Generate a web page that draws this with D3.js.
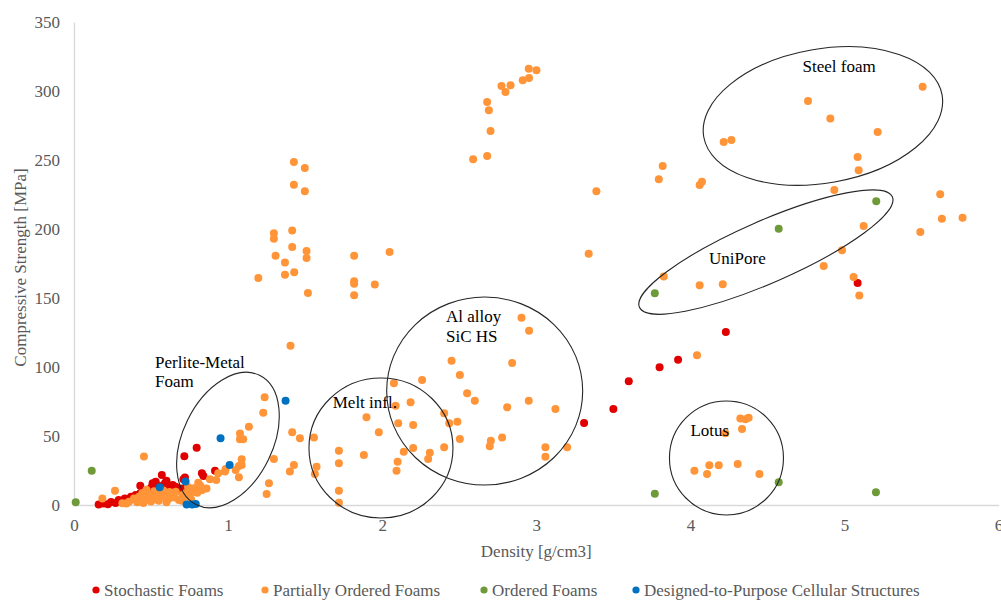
<!DOCTYPE html>
<html>
<head>
<meta charset="utf-8">
<script src="https://cdn.jsdelivr.net/npm/d3@7"></script>
<style>
  html, body { margin: 0; padding: 0; background: #fff; }
  svg { display: block; font-family: "Liberation Serif", "Times New Roman", serif; }
</style>
</head>
<body>
<svg id="chart" width="1001" height="601"></svg>
<script>
// Compressive strength vs. density of metallic cellular materials
// Each point: [density g/cm3, compressive strength MPa]

const seriesNames = [
  "Stochastic Foams",
  "Partially Ordered Foams",
  "Ordered Foams",
  "Designed-to-Purpose Cellular Structures"
];

const stochasticFoams = [
  [0.16, 0.3], [0.19, 1.0], [0.22, 0.6], [0.24, 2.2], [0.27, 1.5], [0.29, 3.6], [0.31, 2.2],
  [0.33, 4.8], [0.35, 3.0], [0.37, 6.0], [0.38, 4.5], [0.40, 7.2], [0.42, 5.5], [0.43, 8.5],
  [0.43, 14.0], [0.46, 8.5], [0.49, 10.9], [0.50, 12.5], [0.51, 15.7], [0.53, 16.9],
  [0.55, 14.0], [0.57, 21.7], [0.58, 12.0], [0.59, 15.7], [0.60, 17.5], [0.62, 13.3],
  [0.64, 14.5], [0.66, 13.3], [0.68, 11.5], [0.70, 12.0], [0.71, 18.6], [0.72, 20.0],
  [0.78, 10.4], [0.83, 23.0], [0.84, 21.0], [0.915, 24.9], [0.716, 35.3], [0.796, 41.5],
  [3.31, 59.4], [3.50, 69.6], [3.60, 89.6], [3.80, 99.8], [3.92, 105.3], [4.23, 125.4],
  [5.085, 160.9]
];

const partiallyOrderedFoams = [
  // low-density cluster
  [0.184, 4.8], [0.266, 10.4], [0.454, 35.2], [0.314, 1.2], [0.34, 1.0], [0.357, 2.4],
  [0.389, 4.8], [0.41, 2.0], [0.422, 6.0], [0.443, 8.5], [0.45, 1.5], [0.465, 3.6],
  [0.47, 11.0], [0.486, 6.0], [0.50, 2.5], [0.508, 7.2], [0.52, 10.0], [0.53, 4.8],
  [0.551, 8.5], [0.55, 3.0], [0.573, 6.0], [0.58, 10.5], [0.595, 7.2], [0.60, 2.0],
  [0.616, 4.8], [0.62, 9.5], [0.638, 8.5], [0.65, 5.5], [0.66, 9.6], [0.681, 3.6],
  [0.70, 3.0], [0.703, 7.2], [0.724, 8.5], [0.735, 6.0], [0.757, 8.5], [0.76, 4.0],
  [0.74, 13.0], [0.778, 12.1], [0.80, 8.9], [0.806, 16.2], [0.82, 14.0], [0.832, 10.9],
  [0.86, 12.0], [0.882, 18.6], [0.923, 18.1], [0.936, 23.0], [0.98, 24.2], [0.984, 26.1],
  [1.049, 25.4], [1.07, 28.3], [1.07, 20.1], [1.088, 29.0], [1.088, 33.1], [1.077, 47.6],
  [1.098, 47.6], [1.077, 51.9], [1.135, 56.7], [1.228, 66.9], [1.237, 78.0], [1.25, 8.0],
  [1.265, 15.7], [1.297, 33.3], [1.401, 24.2], [1.427, 29.0], [1.416, 52.7], [1.466, 48.3],
  [1.405, 115.4],
  // high-strength group near 1.2-2.0
  [1.427, 248.6], [1.498, 244.2], [1.427, 232.1], [1.498, 227.3], [1.297, 196.9],
  [1.297, 193.0], [1.416, 199.0], [1.416, 187.0], [1.509, 184.1], [1.509, 179.0],
  [1.308, 180.7], [1.369, 175.8], [1.369, 166.9], [1.429, 168.6], [1.196, 164.5],
  [1.518, 153.6], [1.818, 180.7], [2.048, 183.3], [1.818, 162.1], [1.818, 160.4],
  [1.952, 159.7], [1.818, 152.0],
  // steep group 2.6-3.4
  [2.951, 316.2], [3.001, 315.0], [2.953, 309.4], [2.912, 307.7], [2.774, 303.6],
  [2.833, 304.1], [2.800, 299.3], [2.681, 292.0], [2.692, 286.0], [2.703, 271.0],
  [2.590, 250.5], [2.681, 252.9], [3.390, 227.3], [3.340, 182.1],
  // Al alloy SiC hollow spheres
  [2.904, 135.6], [2.953, 126.3], [2.450, 104.6], [2.504, 94.2], [2.843, 102.9],
  [2.259, 90.6], [2.076, 88.2], [2.551, 80.9], [2.601, 75.6], [2.184, 74.4], [2.087, 72.0],
  [2.811, 70.8], [2.951, 75.6], [3.124, 69.6], [2.402, 66.4], [2.435, 59.2], [2.488, 60.4],
  [2.104, 59.2], [2.201, 58.0], [2.504, 47.8], [2.778, 49.0], [2.705, 46.6], [2.698, 42.5],
  [3.059, 41.8], [3.059, 35.0], [3.200, 41.8], [2.201, 41.3], [2.140, 38.6], [2.309, 37.9],
  [2.298, 33.3], [2.402, 41.8], [2.100, 31.4], [2.093, 24.9],
  // melt infiltration
  [1.978, 52.7], [1.557, 49.0], [1.574, 27.8], [1.563, 22.5], [1.719, 39.4], [1.719, 30.2],
  [1.719, 10.4], [1.719, 1.7], [1.898, 63.5], [1.881, 36.2],
  // higher densities
  [3.820, 245.6], [3.795, 236.0], [4.075, 234.3], [4.060, 231.9], [4.934, 228.3],
  [4.865, 173.2], [3.827, 165.5], [4.060, 159.2], [4.210, 159.9], [4.043, 108.5],
  // lotus-type
  [4.324, 62.6], [4.357, 62.1], [4.378, 63.3], [4.335, 55.1], [4.227, 52.0], [4.026, 24.9],
  [4.123, 28.8], [4.108, 22.5], [4.184, 28.8], [4.307, 29.7], [4.448, 22.5],
  // steel foams
  [5.507, 303.1], [4.763, 292.8], [4.908, 280.0], [5.215, 270.3], [4.216, 263.0],
  [4.266, 264.5], [5.085, 252.2], [5.092, 242.5], [5.621, 225.1], [5.632, 207.5],
  [5.766, 208.2], [5.492, 197.8], [5.124, 202.2], [4.984, 184.6], [5.059, 165.2],
  [5.096, 151.9]
];

const orderedFoams = [
  [0.011, 2.0], [0.115, 24.8], [3.769, 153.4], [4.573, 200.2], [5.206, 220.1],
  [4.573, 16.4], [3.769, 8.2], [5.204, 9.2]
];

const designedStructures = [
  [0.556, 12.8], [0.724, 17.0], [0.951, 48.3], [1.010, 29.0], [1.373, 75.6],
  [0.731, 0.3], [0.767, 0.3], [0.79, 0.8]
];

const xTicks = [0, 1, 2, 3, 4, 5, 6];
const yTicks = [0, 50, 100, 150, 200, 250, 300, 350];

// Group annotations: centre in data units, radii in px, rotation in degrees
const groupNames = ["Perlite-Metal\nFoam", "Melt infl.", "Al alloy\nSiC HS", "Lotus", "UniPore", "Steel foam"];
const groupCentres = [[0.999, 47.1], [1.992, 41.3], [2.665, 82.6], [4.234, 34.1], [4.490, 183.3], [4.860, 281.9]];
const groupLabelAt = [[0.526, 99.3], [1.679, 70.3], [2.414, 132.6], [4.0, 50.0], [4.121, 174.6], [4.728, 314.0]];

const colours = ["#E00000", "#FF9538", "#6E9A3A", "#0070C0"];
const groupShapes = [
  { rx: 72, ry: 45, rot: -64 },
  { rx: 72, ry: 70, rot: 0 },
  { rx: 98, ry: 94, rot: 0 },
  { rx: 57, ry: 57, rot: 0 },
  { rx: 138, ry: 31, rot: -23.6 },
  { rx: 121, ry: 67, rot: -10 }
];

const svg = d3.select("#chart");
const x = d3.scaleLinear().domain([0, 6]).range([74, 998.6]);
const y = d3.scaleLinear().domain([0, 350]).range([505, 22]);

const axisGrey = "#D9D9D9";
const textGrey = "#595959";
const fontSize = 17;

// axes
const gx = svg.append("g").attr("transform", `translate(0,${y(0)})`)
  .call(d3.axisBottom(x).tickValues(xTicks).tickSize(0).tickPadding(14).tickFormat(d3.format("d")));
const gy = svg.append("g").attr("transform", `translate(${x(0)},0)`)
  .call(d3.axisLeft(y).tickValues(yTicks).tickSize(0).tickPadding(14).tickFormat(d3.format("d")));
[gx, gy].forEach(g => {
  g.select(".domain").attr("stroke", axisGrey).attr("stroke-width", 1.3);
  g.selectAll("text").attr("fill", textGrey).attr("font-size", fontSize)
    .attr("font-family", "Liberation Serif, Times New Roman, serif");
});

svg.append("text").attr("x", (x(0) + x(6)) / 2).attr("y", 557)
  .attr("text-anchor", "middle").attr("fill", textGrey).attr("font-size", fontSize)
  .text("Density [g/cm3]");
svg.append("text").attr("transform", `translate(26,${(y(0) + y(350)) / 2 + 4}) rotate(-90)`)
  .attr("text-anchor", "middle").attr("fill", textGrey).attr("font-size", fontSize)
  .text("Compressive Strength [MPa]");

// points
const allSeries = [stochasticFoams, partiallyOrderedFoams, orderedFoams, designedStructures];
allSeries.forEach((pts, i) => {
  svg.append("g").selectAll("circle").data(pts).join("circle")
    .attr("cx", d => x(d[0])).attr("cy", d => y(d[1])).attr("r", 4)
    .attr("fill", colours[i]);
});

// group outlines and labels
const ann = svg.append("g");
groupNames.forEach((name, i) => {
  const c = groupCentres[i], s = groupShapes[i];
  ann.append("ellipse")
    .attr("transform", `translate(${x(c[0])},${y(c[1])}) rotate(${s.rot})`)
    .attr("rx", s.rx).attr("ry", s.ry)
    .attr("fill", "none").attr("stroke", "#262626").attr("stroke-width", 1.1);
  const p = groupLabelAt[i];
  const t = ann.append("text").attr("x", x(p[0])).attr("y", y(p[1]))
    .attr("font-size", fontSize).attr("fill", "#000");
  name.split("\n").forEach((line, k) => {
    t.append("tspan").attr("x", x(p[0])).attr("dy", k === 0 ? 0 : 19.5).text(line);
  });
});

// legend
const legendX = [96, 265, 484, 636];
const lg = svg.append("g");
seriesNames.forEach((n, i) => {
  lg.append("circle").attr("cx", legendX[i]).attr("cy", 590).attr("r", 3.6).attr("fill", colours[i]);
  lg.append("text").attr("x", legendX[i] + 8).attr("y", 596)
    .attr("font-size", fontSize).attr("fill", textGrey).text(n);
});
</script>
</body>
</html>
